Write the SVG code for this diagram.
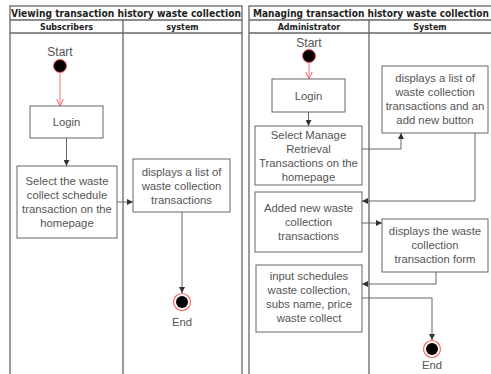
<svg xmlns="http://www.w3.org/2000/svg" width="491" height="374" viewBox="0 0 491 374">
  <style>
    .pool { fill: #fff; stroke: #666; stroke-width: 1.3; }
    .lane { fill: none; stroke: #666; stroke-width: 1.3; }
    .title { font-family: "DejaVu Sans Condensed", "DejaVu Sans", sans-serif; font-stretch: condensed; font-weight: bold; font-size: 9.6px; fill: #222; }
    .head { font-family: "DejaVu Sans", sans-serif; font-weight: bold; font-size: 8px; fill: #222; text-anchor: middle; }
    .box { fill: #fff; stroke: #666; stroke-width: 1; }
    .lbl { font-family: "Liberation Sans", Arial, sans-serif; font-size: 11.3px; fill: #555; text-anchor: middle; }
    .edge { fill: none; stroke: #666; stroke-width: 1; }
    .red { fill: none; stroke: #ff7070; stroke-width: 1; }
    .start { fill: #000; stroke: #ff6060; stroke-width: 1; }
    .endring { fill: #fff; stroke: #ff6060; stroke-width: 1.2; }
  </style>
  <defs>
    <marker id="tri" viewBox="0 0 6 6" refX="6" refY="3" markerWidth="6" markerHeight="6" markerUnits="userSpaceOnUse" orient="auto">
      <path d="M0,0 L6,3 L0,6 Z" fill="#333"/>
    </marker>
    <marker id="open" viewBox="0 0 8 8" refX="7.5" refY="4" markerWidth="8" markerHeight="8" markerUnits="userSpaceOnUse" orient="auto">
      <path d="M0,0.5 L7.5,4 L0,7.5" fill="none" stroke="#ff6060" stroke-width="1"/>
    </marker>
  </defs>

  <rect width="491" height="374" fill="#fff"/>

  <!-- Pool 1: viewing -->
  <g id="pool-viewing">
    <rect class="pool" x="10" y="6" width="232" height="380"/>
    <line class="lane" x1="10" y1="20" x2="242" y2="20"/>
    <line class="lane" x1="10" y1="33" x2="242" y2="33"/>
    <line class="lane" x1="123" y1="20" x2="123" y2="386"/>
    <text class="title" x="11" y="16.5" textLength="230" lengthAdjust="spacingAndGlyphs">Viewing transaction history waste collection</text>
    <text class="head" x="66.5" y="29.5">Subscribers</text>
    <text class="head" x="182.5" y="29.5">system</text>
  </g>

  <!-- Pool 2: managing -->
  <g id="pool-managing">
    <rect class="pool" x="249" y="6" width="250" height="380"/>
    <line class="lane" x1="249" y1="20" x2="499" y2="20"/>
    <line class="lane" x1="249" y1="33" x2="499" y2="33"/>
    <line class="lane" x1="369" y1="20" x2="369" y2="386"/>
    <text class="title" x="253" y="16.5" textLength="236" lengthAdjust="spacingAndGlyphs">Managing transaction history waste collection</text>
    <text class="head" x="309" y="29.5">Administrator</text>
    <text class="head" x="430" y="29.5">System</text>
  </g>

  <!-- Connectors -->
  <g id="connectors">
    <line class="red" x1="60" y1="73" x2="60" y2="106" marker-end="url(#open)"/>
    <line class="edge" x1="66.5" y1="138" x2="66.5" y2="166" marker-end="url(#tri)"/>
    <line class="edge" x1="117" y1="202" x2="133" y2="202" marker-end="url(#tri)"/>
    <line class="edge" x1="182" y1="212" x2="182" y2="293" marker-end="url(#tri)"/>

    <line class="red" x1="309" y1="63" x2="309" y2="79" marker-end="url(#open)"/>
    <line class="edge" x1="308.5" y1="112" x2="308.5" y2="126" marker-end="url(#tri)"/>
    <polyline class="edge" points="362,149 401,149 401,133" marker-end="url(#tri)"/>
    <polyline class="edge" points="475,133 475,201 362,201" marker-end="url(#tri)"/>
    <line class="edge" x1="362" y1="223" x2="382" y2="223" marker-end="url(#tri)"/>
    <polyline class="edge" points="436,272 436,284 362,284" marker-end="url(#tri)"/>
    <polyline class="edge" points="362,298 432,298 432,340" marker-end="url(#tri)"/>
  </g>

  <!-- Pool 1 nodes -->
  <g id="start1">
    <text class="lbl" x="60" y="56" style="font-size:12px">Start</text>
    <circle class="start" cx="60" cy="66" r="6.5"/>
  </g>
  <g id="login1">
    <rect class="box" x="30" y="106" width="73" height="32"/>
    <text class="lbl" x="66.5" y="126">Login</text>
  </g>
  <g id="select1">
    <rect class="box" x="17" y="166" width="100" height="72"/>
    <text class="lbl" x="67" y="185">Select the waste</text>
    <text class="lbl" x="67" y="199">collect schedule</text>
    <text class="lbl" x="67" y="213">transaction on the</text>
    <text class="lbl" x="67" y="227">homepage</text>
  </g>
  <g id="list1">
    <rect class="box" x="133" y="159" width="97" height="53"/>
    <text class="lbl" x="181.5" y="176">displays a list of</text>
    <text class="lbl" x="181.5" y="190">waste collection</text>
    <text class="lbl" x="181.5" y="204">transactions</text>
  </g>
  <g id="end1">
    <circle class="endring" cx="182" cy="302" r="8.5"/>
    <circle cx="182" cy="302" r="6" fill="#000"/>
    <text class="lbl" x="182" y="326">End</text>
  </g>

  <!-- Pool 2 nodes -->
  <g id="start2">
    <text class="lbl" x="309" y="47" style="font-size:12px">Start</text>
    <circle class="start" cx="309" cy="56" r="6.5"/>
  </g>
  <g id="login2">
    <rect class="box" x="272" y="79" width="73" height="33"/>
    <text class="lbl" x="308.5" y="100">Login</text>
  </g>
  <g id="select2">
    <rect class="box" x="255" y="126" width="107" height="59"/>
    <text class="lbl" x="308.5" y="139">Select Manage</text>
    <text class="lbl" x="308.5" y="153">Retrieval</text>
    <text class="lbl" x="308.5" y="167">Transactions on the</text>
    <text class="lbl" x="308.5" y="181">homepage</text>
  </g>
  <g id="list2">
    <rect class="box" x="382" y="66" width="106" height="67"/>
    <text class="lbl" x="435" y="82">displays a list of</text>
    <text class="lbl" x="435" y="96">waste collection</text>
    <text class="lbl" x="435" y="110">transactions and an</text>
    <text class="lbl" x="435" y="124">add new button</text>
  </g>
  <g id="added2">
    <rect class="box" x="255" y="192" width="107" height="60"/>
    <text class="lbl" x="308.5" y="212">Added new waste</text>
    <text class="lbl" x="308.5" y="226">collection</text>
    <text class="lbl" x="308.5" y="240">transactions</text>
  </g>
  <g id="form2">
    <rect class="box" x="382" y="219" width="106" height="53"/>
    <text class="lbl" x="435" y="235">displays the waste</text>
    <text class="lbl" x="435" y="249">collection</text>
    <text class="lbl" x="435" y="263">transaction form</text>
  </g>
  <g id="input2">
    <rect class="box" x="256" y="265" width="106" height="67"/>
    <text class="lbl" x="309" y="280">input schedules</text>
    <text class="lbl" x="309" y="294">waste collection,</text>
    <text class="lbl" x="309" y="308">subs name, price</text>
    <text class="lbl" x="309" y="322">waste collect</text>
  </g>
  <g id="end2">
    <circle class="endring" cx="432" cy="349" r="8.5"/>
    <circle cx="432" cy="349" r="6" fill="#000"/>
    <text class="lbl" x="432" y="369">End</text>
  </g>
</svg>
